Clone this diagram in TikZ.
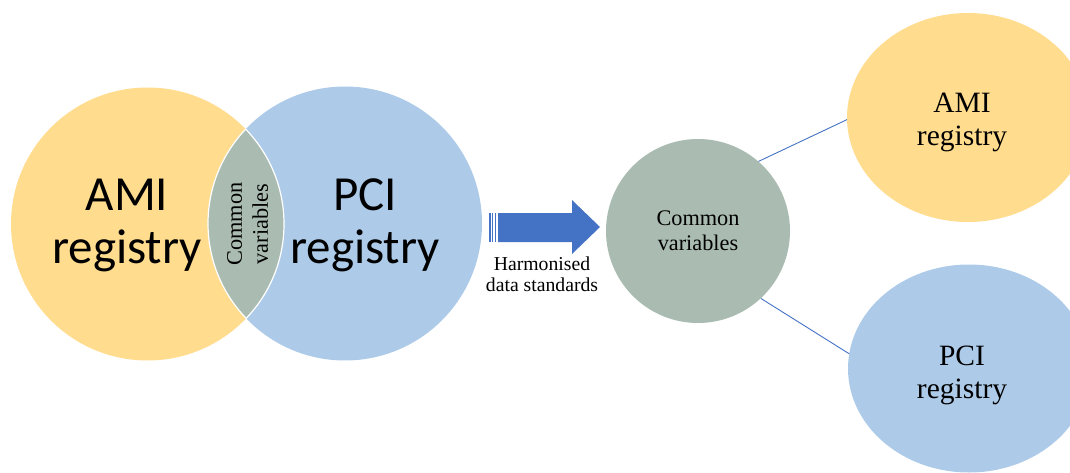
\documentclass[tikz,border=0pt]{standalone}
\usepackage{fontspec}
\setmainfont{Liberation Serif}
\newfontfamily\calibrilike{Carlito}
\usetikzlibrary{shapes.geometric}

\definecolor{amiyellow}{HTML}{FFDC8E}
\definecolor{pciblue}{HTML}{ADCBE9}
\definecolor{commongray}{HTML}{AABCB1}
\definecolor{arrowblue}{HTML}{4472C4}

\begin{document}
\begin{tikzpicture}[x=1pt,y=-1pt,
  blob/.style={inner sep=0pt, outer sep=0pt},
  bigtext/.style={font=\calibrilike\fontsize{49}{52.5}\selectfont, align=center, inner sep=0pt},
  lenstext/.style={font=\fontsize{22.3}{26}\selectfont, align=center, inner sep=0pt},
  midtext/.style={font=\fontsize{22.3}{25}\selectfont, align=center},
  sidetext/.style={font=\fontsize{29.5}{33}\selectfont, align=center, inner sep=0pt},
  captext/.style={font=\fontsize{19.7}{21}\selectfont, align=center, inner sep=0pt},
  connector/.style={draw=arrowblue, line width=0.9pt}]
\useasboundingbox (0,0) rectangle (1070,473);

% Venn diagram of the two registries
\node[blob, circle, fill=amiyellow, minimum size=273pt] (amiL) at (147.5,224) {};
\node[blob, circle, fill=pciblue, minimum size=274pt] (pciL) at (345,223.5) {};

% overlap lens with white rims
\begin{scope}
  \clip (147.5,224) circle[radius=136.5];
  \filldraw[fill=commongray, draw=white, line width=1.2pt] (345,223.5) circle[radius=137];
\end{scope}
\begin{scope}
  \clip (345,223.5) circle[radius=137];
  \draw[white, line width=1.2pt] (147.5,224) circle[radius=136.5];
\end{scope}

\node[bigtext] (amiLabel) at (127,225.3) {AMI\\registry};
\node[bigtext] (pciLabel) at (365,225.3) {PCI\\registry};
\node[lenstext, rotate=90] (lensLabel) at (247.5,224) {Common\\variables};

% block arrow with striped tail
\fill[arrowblue] (498,213) -- (572,213) -- (572,200) -- (600,227)
  -- (572,254) -- (572,242) -- (498,242) -- cycle;
\fill[arrowblue] (489.3,213) rectangle (490.7,242);
\fill[arrowblue] (492.0,213) rectangle (493.4,242);
\fill[arrowblue] (494.7,213) rectangle (496.1,242);
\node[captext] (harmLabel) at (542,274.7) {Harmonised\\data standards};

% harmonised hub and the registries it feeds
\node[circle, fill=commongray, minimum size=184pt, midtext] (midC) at (698,231) {Common\\variables};

\node[blob, ellipse, fill=amiyellow, minimum width=242pt, minimum height=209pt] (amiR) at (968,117.5) {};
\node[sidetext] (amiRLabel) at (962,122) {AMI\\registry};

\node[blob, ellipse, fill=pciblue, minimum width=242pt, minimum height=208pt] (pciR) at (969,368.5) {};
\node[sidetext] (pciRLabel) at (962,375) {PCI\\registry};

\draw[connector] (midC.49) -- (amiR.181);
\draw[connector] (midC.313) -- (pciR.173);
\end{tikzpicture}
\end{document}
